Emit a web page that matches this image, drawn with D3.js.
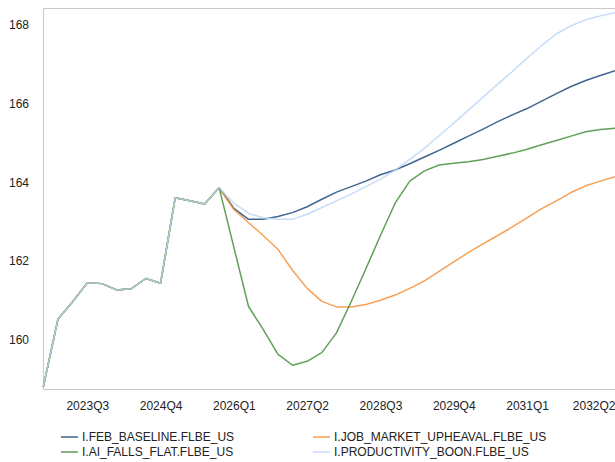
<!DOCTYPE html>
<html>
<head>
<meta charset="utf-8">
<script src="https://cdn.jsdelivr.net/npm/d3@7"></script>
<style>
  body { margin: 0; background: #fff; }
  svg { display: block; font-family: "Liberation Sans", Arial, sans-serif; }
</style>
</head>
<body>
<div id="chart"></div>
<script>
// quarters 2022Q4 .. 2032Q3
var quarters = [];
for (var yr = 2022; yr <= 2032; yr++) {
    for (var q = 1; q <= 4; q++) {
        var lab = yr + "Q" + q;
        if (lab >= "2022Q4" && lab <= "2032Q3") quarters.push(lab);
    }
}

var tickLabels = ["2023Q3", "2024Q4", "2026Q1", "2027Q2", "2028Q3", "2029Q4", "2031Q1", "2032Q2"];

// shared history, 2022Q4 .. 2025Q4
var pastVals = [158.81, 160.53, 160.97, 161.45, 161.43, 161.27, 161.30, 161.56, 161.44,
    163.61, 163.53, 163.45, 163.86];

// scenarios, 2026Q1 .. 2032Q3
var baseline = [163.34, 163.06, 163.06, 163.13, 163.23, 163.38, 163.57, 163.75, 163.89,
    164.03, 164.19, 164.31, 164.47, 164.64, 164.81, 164.99, 165.17, 165.35, 165.54,
    165.71, 165.87, 166.06, 166.25, 166.43, 166.58, 166.71, 166.83];
var jobMarket = [163.31, 162.98, 162.65, 162.30, 161.77, 161.31, 160.98, 160.84, 160.84,
    160.90, 161.01, 161.14, 161.31, 161.50, 161.74, 161.98, 162.22, 162.44, 162.65,
    162.87, 163.10, 163.33, 163.53, 163.74, 163.91, 164.03, 164.14];
var aiFlat = [162.35, 160.85, 160.27, 159.64, 159.36, 159.46, 159.68, 160.18, 160.97,
    161.80, 162.65, 163.47, 164.03, 164.29, 164.44, 164.48, 164.52, 164.58, 164.66,
    164.74, 164.84, 164.95, 165.06, 165.17, 165.28, 165.34, 165.37];
var productivity = [163.47, 163.21, 163.10, 163.06, 163.06, 163.19, 163.36, 163.53, 163.70,
    163.89, 164.08, 164.31, 164.58, 164.86, 165.18, 165.50, 165.83, 166.16, 166.49,
    166.81, 167.15, 167.47, 167.76, 167.97, 168.12, 168.22, 168.30];

var seriesNames = ["I.FEB_BASELINE.FLBE_US", "I.JOB_MARKET_UPHEAVAL.FLBE_US",
    "I.AI_FALLS_FLAT.FLBE_US", "I.PRODUCTIVITY_BOON.FLBE_US"];
var seriesColors = ["#1f4a7e", "#f58f35", "#448f3a", "#bdd6f7"];

var series = [baseline, jobMarket, aiFlat, productivity].map(function (vals, i) {
    return {
        name: seriesNames[i],
        color: seriesColors[i],
        values: pastVals.concat(vals).map(function (v, j) {
            return {q: quarters[j], v: v};
        })
    };
});

var w = 615,
    h = 462;

var x = d3.scalePoint()
    .domain(quarters)
    .range([43.3, 615]);

var y = d3.scaleLinear()
    .domain([158.75, 168.42])
    .range([389.3, 8]);

var svg = d3.select("#chart").append("svg")
    .attr("width", w)
    .attr("height", h);

// plot frame (left, top, bottom)
svg.append("path")
    .attr("d", "M615,8.5H43.5V389.5H615")
    .attr("fill", "none")
    .attr("stroke", "#c9c9c9")
    .attr("stroke-width", 1);

// y axis labels
var yAxis = d3.axisLeft(y)
    .tickValues([160, 162, 164, 166, 168])
    .tickSize(0)
    .tickPadding(14);

svg.append("g")
    .attr("transform", "translate(43,0)")
    .call(yAxis)
    .call(function (g) { g.select(".domain").remove(); })
    .selectAll("text")
    .attr("font-size", 12)
    .attr("font-family", "Liberation Sans, Arial, sans-serif")
    .attr("fill", "#222");

// x axis labels
var xAxis = d3.axisBottom(x)
    .tickValues(tickLabels)
    .tickSize(0)
    .tickPadding(12);

var gx = svg.append("g")
    .attr("transform", "translate(0,389)")
    .call(xAxis)
    .call(function (g) { g.select(".domain").remove(); });

gx.selectAll("text")
    .attr("font-size", 12)
    .attr("font-family", "Liberation Sans, Arial, sans-serif")
    .attr("fill", "#222");

// last label is pushed in so it stays inside the frame
gx.selectAll(".tick").filter(function (d) { return d === "2032Q2"; })
    .select("text")
    .attr("text-anchor", "end")
    .attr("x", 615 - x("2032Q2"));

var line = d3.line()
    .x(function (d) { return x(d.q); })
    .y(function (d) { return y(d.v); });

svg.append("g")
    .selectAll("path")
    .data(series)
    .enter()
    .append("path")
    .attr("d", function (d) { return line(d.values); })
    .attr("fill", "none")
    .attr("stroke", function (d) { return d.color; })
    .attr("stroke-width", 1.5)
    .attr("stroke-opacity", 0.85)
    .attr("stroke-linejoin", "round");

// legend, two columns
var legendPos = [[61, 437], [313, 437], [61, 452], [313, 452]];

var legend = svg.append("g")
    .selectAll("g")
    .data(series)
    .enter()
    .append("g")
    .attr("transform", function (d, i) {
        return "translate(" + legendPos[i][0] + "," + legendPos[i][1] + ")";
    });

legend.append("line")
    .attr("x1", 0)
    .attr("x2", 17)
    .attr("stroke", function (d) { return d.color; })
    .attr("stroke-opacity", 0.65)
    .attr("stroke-width", 2);

legend.append("text")
    .attr("x", 21)
    .attr("dy", "0.35em")
    .attr("font-size", 12)
    .attr("fill", "#222")
    .text(function (d) { return d.name; });
</script>
</body>
</html>
